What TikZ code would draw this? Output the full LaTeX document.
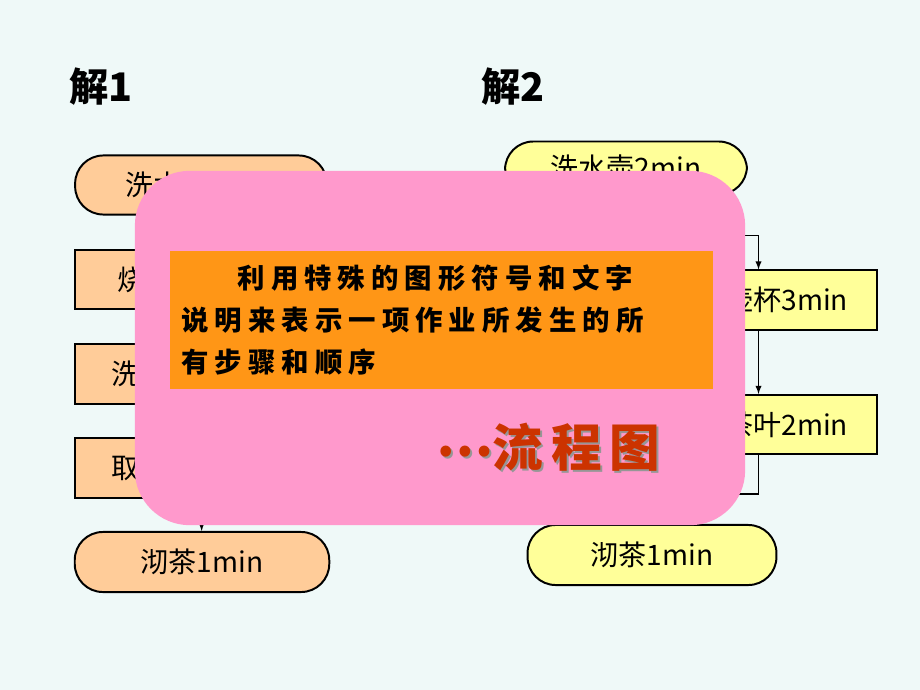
\documentclass[tikz,border=0pt]{standalone}
\usepackage{fontspec}
\setmainfont{Noto Sans CJK SC}
\usepackage{tikz}
\usetikzlibrary{arrows,positioning,calc}

\definecolor{slidebg}{RGB}{239,249,248}
\definecolor{peach}{RGB}{255,204,153}
\definecolor{paleyellow}{RGB}{255,255,153}
\definecolor{coverpink}{RGB}{255,153,204}
\definecolor{noteorange}{RGB}{255,150,22}
\definecolor{flowred}{RGB}{204,51,0}
\definecolor{shadowgrey}{RGB}{150,150,150}

\begin{document}
\begin{tikzpicture}[x=0.025cm,y=-0.025cm,
  stepbox/.style={rectangle,draw,line width=1.4pt,minimum height=42pt,font=\fontsize{20}{24}\selectfont},
  termbox/.style={stepbox,rounded corners=20pt},
  arr/.style={-latex,line width=1pt}]
% slide background
\useasboundingbox (0,0) rectangle (920,690);
\fill[slidebg] (0,0) rectangle (920,690);

% headings
\node[name=sol1,font=\fontsize{28}{32}\selectfont\bfseries] at (101,87) {解1};
\node[name=sol2,font=\fontsize{28}{32}\selectfont\bfseries] at (513,87) {解2};

% first solution
\node[termbox,fill=peach,minimum width=179pt,name=w1] at (201,185) {洗水壶2min};
\node[stepbox,fill=peach,minimum width=179pt,name=b1] at (201,279.5) {烧开水15min};
\node[stepbox,fill=peach,minimum width=179pt,name=c1] at (201,374) {洗茶壶杯3min};
\node[stepbox,fill=peach,minimum width=179pt,name=t1] at (201,468) {取放茶叶2min};
\node[termbox,fill=peach,minimum width=181pt,minimum height=42.7pt,name=q1] at (202,562) {沏茶1min};

\draw[arr] (w1) -- (b1);
\draw[arr] (b1) -- (c1);
\draw[arr] (c1) -- (t1);
\draw[arr] (t1) -- (q1);

% second solution
\node[termbox,fill=paleyellow,minimum width=172pt,minimum height=37.7pt,name=w2] at (626,168) {洗水壶2min};
\node[stepbox,fill=paleyellow,minimum width=168.6pt,name=c2] at (758.5,300) {洗茶壶杯3min};
\node[stepbox,fill=paleyellow,minimum width=168.6pt,name=t2] at (758.5,424.5) {取放茶叶2min};
\node[termbox,fill=paleyellow,minimum width=177pt,minimum height=42.7pt,name=q2] at (652,555) {沏茶1min};

\draw[arr] (w2.south) -- ++(0,40) -| (c2.north);
\draw[arr] (c2) -- (t2);
\draw[arr] (t2.south) -- ++(0,39) -| (q2.north);

% pink card on top
\node[rectangle,fill=coverpink,rounded corners=39pt,minimum width=434pt,minimum height=252pt,name=cover] at (440,348) {};
\node[rectangle,fill=noteorange,minimum width=386pt,minimum height=98pt,text width=370pt,align=left,
  font=\fontsize{19.5}{30}\selectfont\bfseries\addfontfeature{LetterSpace=22},name=note] at (441.5,320)
  {\hspace*{40pt}利用特殊的图形符号和文字\\说明来表示一项作业所发生的所\\有步骤和顺序};
\node[text=shadowgrey,font=\fontsize{36}{40}\selectfont\bfseries\addfontfeature{LetterSpace=15},name=flowshadow] at (550,449) {\raisebox{7pt}{…}流程图};
\node[text=flowred,font=\fontsize{36}{40}\selectfont\bfseries\addfontfeature{LetterSpace=15},name=flow] at (548,447) {\raisebox{7pt}{…}流程图};
\end{tikzpicture}
\end{document}
